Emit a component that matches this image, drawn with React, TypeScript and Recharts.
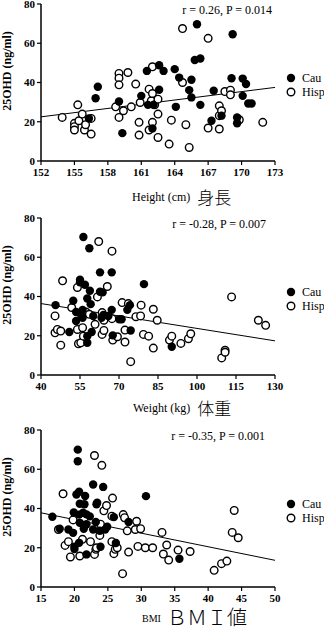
import React from 'react';
import { ScatterChart, Scatter, XAxis, YAxis, ReferenceLine } from 'recharts';

// [x, 25OHD] pairs
const heightCau = [
  [156.9, 32], [157.1, 37.8], [156.3, 21.7], [159.0, 30.3], [159.3, 14.2], [161.0, 33.2],
  [161.5, 45.9], [161.6, 28.6], [162.0, 16.6], [162.1, 28.6], [162.6, 48.8], [162.6, 36.3],
  [163.0, 45.9], [164.0, 46.8], [164.4, 42.5], [164.1, 27.6], [165.3, 36.1], [165.5, 41.4],
  [165.5, 32.4], [165.8, 51.5], [166.0, 69.7], [166.3, 52.2], [166.3, 28.6], [167.5, 35.8],
  [167.3, 20.5], [168.2, 23.1], [169.2, 64.6], [169.1, 42.2], [169.6, 22.2], [169.6, 19.2],
  [170.1, 42.0], [170.1, 33.2], [170.4, 39.2], [170.6, 29.3], [170.9, 29.3],
];
const heightHisp = [
  [153.9, 22.2], [155.3, 28.6], [155.0, 19.2], [155.0, 17.5], [155.0, 15.8], [155.4, 20.5],
  [155.7, 23.9], [155.9, 15.8], [156.0, 18.5], [156.5, 21.7], [156.5, 13.7], [158.7, 27.6],
  [159.0, 44.6], [159.0, 42.2], [159.0, 38.8], [159.0, 22.2], [159.4, 25.6], [159.8, 45.1],
  [160.1, 27.6], [160.5, 39.2], [160.8, 19.7], [160.8, 13.2], [160.9, 29.8], [161.7, 36.6],
  [161.7, 15.8], [161.9, 30.7], [162.0, 48.0], [162.0, 34.4], [162.0, 19.7], [162.2, 28.6],
  [162.5, 31.5], [162.5, 23.9], [162.5, 12.0], [163.5, 8.6], [163.7, 20.8], [164.7, 40.0],
  [164.7, 67.5], [165.0, 18.5], [165.3, 6.9], [167.0, 62.5], [167.0, 16.8], [168.0, 28.1],
  [168.0, 23.1], [168.0, 16.3], [168.2, 25.6], [168.5, 35.4], [169.0, 36.1], [169.0, 33.7],
  [169.8, 21.0], [171.9, 19.7],
];
const weightCau = [
  [45.6, 35.6], [50.9, 21.9], [52.4, 37.8], [53.5, 32.1], [53.5, 27.5], [55.0, 48.5],
  [55.0, 47.2], [56.3, 70.3], [56.0, 33.2], [56.0, 29.2], [55.3, 30.9], [56.9, 46.0],
  [57.8, 39.0], [57.8, 19.8], [57.8, 16.4], [58.6, 64.6], [58.8, 42.9], [59.1, 36.1],
  [59.5, 21.9], [60.1, 30.1], [62.7, 52.3], [62.7, 42.4], [63.3, 29.2], [63.7, 42.1],
  [64.0, 30.6], [65.9, 30.1], [67.2, 52.3], [67.2, 33.2], [67.6, 20.2], [70.1, 28.4],
  [71.0, 28.4], [73.2, 33.2], [74.2, 35.6], [74.5, 22.7], [79.6, 46.3], [90.3, 14.4],
];
const weightHisp = [
  [45.4, 30.1], [45.4, 21.5], [46.3, 23.2], [47.6, 22.4], [47.6, 15.2], [48.3, 48.0],
  [51.8, 34.4], [54.0, 44.6], [54.0, 23.2], [54.4, 15.9], [55.3, 16.4], [56.0, 24.1],
  [56.3, 19.8], [57.3, 32.1], [58.6, 30.9], [60.8, 25.8], [61.7, 39.8], [62.2, 68.0],
  [63.5, 31.8], [63.5, 20.7], [64.2, 27.9], [64.2, 22.7], [65.5, 45.1], [67.3, 63.1],
  [67.3, 28.7], [67.6, 17.8], [69.4, 19.5], [71.2, 36.9], [72.3, 16.8], [72.3, 22.9],
  [73.6, 36.4], [74.5, 6.8], [76.5, 29.7], [78.3, 30.1], [78.5, 35.6], [79.4, 20.7],
  [81.4, 19.8], [83.2, 33.5], [83.2, 13.7], [84.7, 27.9], [89.4, 17.8], [90.3, 19.8],
  [93.8, 16.1], [96.7, 18.5], [97.6, 21.0], [109.5, 8.7], [110.8, 12.6], [110.8, 11.6],
  [113.3, 39.8], [123.6, 27.9], [126.4, 25.3],
];
const bmiCau = [
  [16.7, 35.8], [17.8, 29.7], [19.1, 29.3], [19.8, 27.6], [19.9, 38.0], [20.0, 20.5],
  [20.0, 19.3], [20.5, 70.0], [20.5, 64.1], [20.3, 47.1], [20.7, 48.5], [20.8, 42.4],
  [20.7, 22.5], [20.7, 36.9], [20.8, 32.7], [21.3, 37.8], [21.4, 29.7], [21.5, 42.2],
  [21.6, 46.4], [21.8, 37.0], [21.8, 32.0], [21.8, 16.6], [22.3, 36.0], [22.8, 52.2],
  [22.8, 29.3], [23.2, 33.1], [23.3, 42.2], [23.4, 42.9], [23.8, 28.7], [23.9, 20.5],
  [24.3, 51.0], [24.6, 29.3], [24.9, 30.7], [25.9, 35.6], [26.2, 22.4], [28.1, 33.1],
  [30.7, 46.3], [35.7, 14.4],
];
const bmiHisp = [
  [17.6, 29.3], [18.3, 47.5], [18.6, 21.2], [19.1, 23.1], [19.4, 15.3], [19.8, 34.2],
  [20.8, 15.8], [21.2, 24.3], [22.4, 23.1], [23.0, 67.0], [23.0, 16.6], [23.2, 19.2],
  [23.3, 20.0], [23.8, 26.3], [23.9, 32.0], [24.1, 62.0], [24.4, 38.8], [24.8, 41.5],
  [25.7, 45.3], [25.6, 36.1], [25.6, 23.1], [25.9, 17.0], [26.1, 19.2], [26.4, 20.0],
  [27.2, 6.8], [27.3, 36.9], [27.5, 35.3], [27.9, 28.6], [28.1, 17.8], [29.3, 33.5],
  [29.1, 29.3], [29.9, 29.7], [29.5, 20.7], [30.6, 20.0], [31.7, 20.0], [33.1, 27.8],
  [33.3, 16.8], [33.8, 21.4], [34.1, 13.7], [35.5, 18.8], [37.3, 18.1], [40.9, 8.5],
  [42.0, 11.9], [42.8, 13.2], [43.6, 27.8], [43.9, 39.0], [44.5, 25.1],
];

// regression line end points
const heightFit = [[152, 22.5], [173, 37.5]];
const weightFit = [[40, 36.4], [130, 17.4]];
const bmiFit = [[15, 37.8], [50, 13.6]];

const heightTicks = [152, 155, 158, 161, 164, 167, 170, 173];
const weightTicks = [40, 55, 70, 85, 100, 115, 130];
const bmiTicks = [15, 20, 25, 30, 35, 40, 45, 50];
const yTicks = [0, 20, 40, 60, 80];

const stats = ['r = 0.26, P = 0.014', 'r = -0.28, P = 0.007', 'r = -0.35, P = 0.001'];

const toPts = (arr: number[][]) => arr.map(([x, y]) => ({ x, y }));

const serif = '"Liberation Serif", "DejaVu Serif", serif';
const cjk = '"Noto Sans CJK JP", sans-serif';

const Filled = (p: any) => <circle cx={p.cx} cy={p.cy} r={4.2} fill="#000" />;
const Open = (p: any) => <circle cx={p.cx} cy={p.cy} r={3.8} fill="#fff" stroke="#000" strokeWidth={1.4} />;

const Panel = ({ top, cau, hisp, fit, ticks, stat, statRight }: any) => {
  const [p0, p1] = fit;
  return (
    <div style={{ position: 'absolute', left: 0, top }}>
      <ScatterChart width={324} height={207} margin={{ top: 10, right: 49, bottom: 10, left: 0 }}>
        <XAxis
          type="number"
          dataKey="x"
          domain={[ticks[0], ticks[ticks.length - 1]]}
          ticks={ticks}
          interval={0}
          height={30}
          tickSize={4}
          tickMargin={3}
          axisLine={{ stroke: '#000', strokeWidth: 1.5 }}
          tickLine={{ stroke: '#000', strokeWidth: 1.2 }}
          tick={{ fill: '#000', fontSize: 11, fontFamily: serif, fontWeight: 'bold' }}
        />
        <YAxis
          type="number"
          dataKey="y"
          domain={[0, 80]}
          ticks={yTicks}
          interval={0}
          width={41}
          tickSize={4}
          tickMargin={2}
          axisLine={{ stroke: '#000', strokeWidth: 1.5 }}
          tickLine={{ stroke: '#000', strokeWidth: 1.2 }}
          tick={{ fill: '#000', fontSize: 11, fontFamily: serif, fontWeight: 'bold' }}
        />
        <ReferenceLine
          segment={[{ x: p0[0], y: p0[1] }, { x: p1[0], y: p1[1] }]}
          stroke="#000"
          strokeWidth={1}
          ifOverflow="visible"
        />
        <Scatter data={toPts(hisp)} shape={Open} isAnimationActive={false} />
        <Scatter data={toPts(cau)} shape={Filled} isAnimationActive={false} />
      </ScatterChart>
      <div
        style={{
          position: 'absolute', right: 324 - statRight, top: 10, fontFamily: serif, fontSize: 12,
          whiteSpace: 'nowrap', lineHeight: '12px',
        }}
      >
        {stat}
      </div>
      <div
        style={{
          position: 'absolute', left: 7, top: 77, width: 0, height: 0, overflow: 'visible',
        }}
      >
        <div
          style={{
            position: 'absolute', left: 0, top: 0, transform: 'translate(-50%, -50%) rotate(-90deg)',
            fontFamily: serif, fontSize: 12, fontWeight: 'bold', whiteSpace: 'nowrap', lineHeight: '12px',
          }}
        >
          25OHD (ng/ml)
        </div>
      </div>
      <svg style={{ position: 'absolute', left: 285, top: 0 }} width={12} height={110}>
        <circle cx={6} cy={84} r={4.2} fill="#000" />
        <circle cx={6} cy={98} r={3.8} fill="#fff" stroke="#000" strokeWidth={1.4} />
      </svg>
      <div style={{ position: 'absolute', left: 302, top: 77, fontFamily: serif, fontSize: 12, lineHeight: '14px' }}>
        <div>Cau</div>
        <div>Hisp</div>
      </div>
    </div>
  );
};

export default function App() {
  return (
    <div style={{ position: 'absolute', left: 0, top: 0, width: 324, height: 628, background: '#fff', overflow: 'hidden' }}>
      <Panel top={-6} cau={heightCau} hisp={heightHisp} fit={heightFit} ticks={heightTicks} stat={stats[0]} statRight={272} />
      <Panel top={208} cau={weightCau} hisp={weightHisp} fit={weightFit} ticks={weightTicks} stat={stats[1]} statRight={266} />
      <Panel top={420} cau={bmiCau} hisp={bmiHisp} fit={bmiFit} ticks={bmiTicks} stat={stats[2]} statRight={265} />

      <div style={{ position: 'absolute', left: 132, top: 188, whiteSpace: 'nowrap', display: 'flex', alignItems: 'center' }}>
        <span style={{ fontFamily: serif, fontSize: 12 }}>Height (cm)</span>
        <span style={{ fontFamily: cjk, fontSize: 17, fontWeight: 300, marginLeft: 7, lineHeight: '18px' }}>身長</span>
      </div>
      <div style={{ position: 'absolute', left: 133, top: 399, whiteSpace: 'nowrap', display: 'flex', alignItems: 'center' }}>
        <span style={{ fontFamily: serif, fontSize: 12 }}>Weight (kg)</span>
        <span style={{ fontFamily: cjk, fontSize: 17, fontWeight: 300, marginLeft: 7, lineHeight: '18px' }}>体重</span>
      </div>
      <div style={{ position: 'absolute', left: 142, top: 607, whiteSpace: 'nowrap', display: 'flex', alignItems: 'flex-end' }}>
        <span style={{ fontFamily: serif, fontSize: 10, lineHeight: '12px', marginBottom: 2 }}>BMI</span>
        <span style={{ fontFamily: cjk, fontSize: 20, fontWeight: 300, marginLeft: 6, lineHeight: '20px' }}>ＢＭＩ値</span>
      </div>
    </div>
  );
}
